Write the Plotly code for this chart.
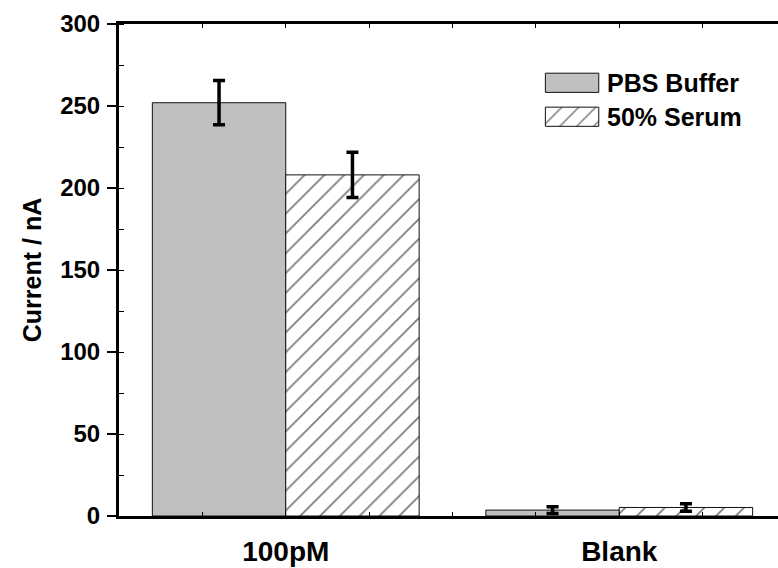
import plotly.graph_objects as go

categories = ["100pM", "Blank"]
cat_pos = [1, 2]
pbs_values = [252, 3.6]
pbs_errors = [13.5, 2.0]
serum_values = [208, 5.2]
serum_errors = [13.8, 2.3]
series_names = ["PBS Buffer", "50% Serum"]
y_ticks = [0, 50, 100, 150, 200, 250, 300]

FONT = "Liberation Sans, Arial, sans-serif"

fig = go.Figure()
fig.add_trace(go.Bar(
    x=cat_pos, y=pbs_values, name=series_names[0],
    marker=dict(color="#C0C0C0", line=dict(color="#111", width=1)),
    error_y=dict(type="data", array=pbs_errors, visible=True, color="black", thickness=3.5, width=6),
    showlegend=False,
))
fig.add_trace(go.Bar(
    x=cat_pos, y=serum_values, name=series_names[1],
    marker=dict(color="white", line=dict(color="#111", width=1),
                pattern=dict(shape="/", fgcolor="black", bgcolor="white", size=14, solidity=0.13)),
    error_y=dict(type="data", array=serum_errors, visible=True, color="black", thickness=3.5, width=6),
    showlegend=False,
))

# manual legend swatches on an overlay axis (0..1 coordinates)
leg_x0, leg_x1 = 0.647, 0.728
leg_rows = [(0.8805, 0.039), (0.8115, 0.039)]
fig.add_trace(go.Bar(
    x=[leg_x1 - leg_x0], base=[leg_x0], y=[leg_rows[0][0]], width=[leg_rows[0][1]],
    orientation="h", xaxis="x2", yaxis="y2", showlegend=False, hoverinfo="skip",
    marker=dict(color="#C0C0C0", line=dict(color="#111", width=1)),
))
fig.add_trace(go.Bar(
    x=[leg_x1 - leg_x0], base=[leg_x0], y=[leg_rows[1][0]], width=[leg_rows[1][1]],
    orientation="h", xaxis="x2", yaxis="y2", showlegend=False, hoverinfo="skip",
    marker=dict(color="white", line=dict(color="#111", width=1),
                pattern=dict(shape="/", fgcolor="black", bgcolor="white", size=12, solidity=0.13)),
))
for (yc, _), name in zip(leg_rows, series_names):
    fig.add_annotation(x=leg_x1 + 0.01, y=yc, xref="x2", yref="y2", text=f"<b>{name}</b>",
                       showarrow=False, xanchor="left", yanchor="middle",
                       font=dict(family=FONT, size=25, color="black"))

fig.update_layout(
    width=778, height=568,
    margin=dict(l=119, r=0, t=24, b=52),
    paper_bgcolor="white", plot_bgcolor="white",
    barmode="group", bargap=0.2, bargroupgap=0,
    font=dict(family=FONT, color="black"),
    xaxis=dict(
        range=[0.5, 2.476], tickmode="array", tickvals=cat_pos,
        ticktext=[f"<b>{c}</b>" for c in categories],
        tickfont=dict(family=FONT, size=28, color="black"),
        showline=True, linecolor="black", linewidth=3, mirror="allticks",
        ticks="inside", ticklen=4, tickwidth=1, tickcolor="black",
        minor=dict(tickmode="array", tickvals=[0.75, 1.25, 1.5, 1.75, 2.25],
                   ticks="inside", ticklen=4, tickwidth=1, tickcolor="black"),
        showgrid=False, zeroline=False, ticklabelstandoff=8,
    ),
    yaxis=dict(
        range=[0, 300], tickmode="array", tickvals=y_ticks,
        ticktext=[f"<b>{v}</b>" for v in y_ticks],
        tickfont=dict(family=FONT, size=24, color="black"),
        showline=True, linecolor="black", linewidth=3,
        ticks="outside", ticklen=9, tickwidth=2, tickcolor="black",
        minor=dict(dtick=25, tick0=0, ticks="inside", ticklen=5, tickwidth=1, tickcolor="black"),
        showgrid=False, zeroline=False, ticklabelstandoff=2,
        title=dict(text="<b>Current / nA</b>", font=dict(family=FONT, size=25, color="black"), standoff=12),
    ),
    xaxis2=dict(range=[0, 1], overlaying="x", visible=False, fixedrange=True),
    yaxis2=dict(range=[0, 1], overlaying="y", visible=False, fixedrange=True),
)

fig.write_html("out.html")
